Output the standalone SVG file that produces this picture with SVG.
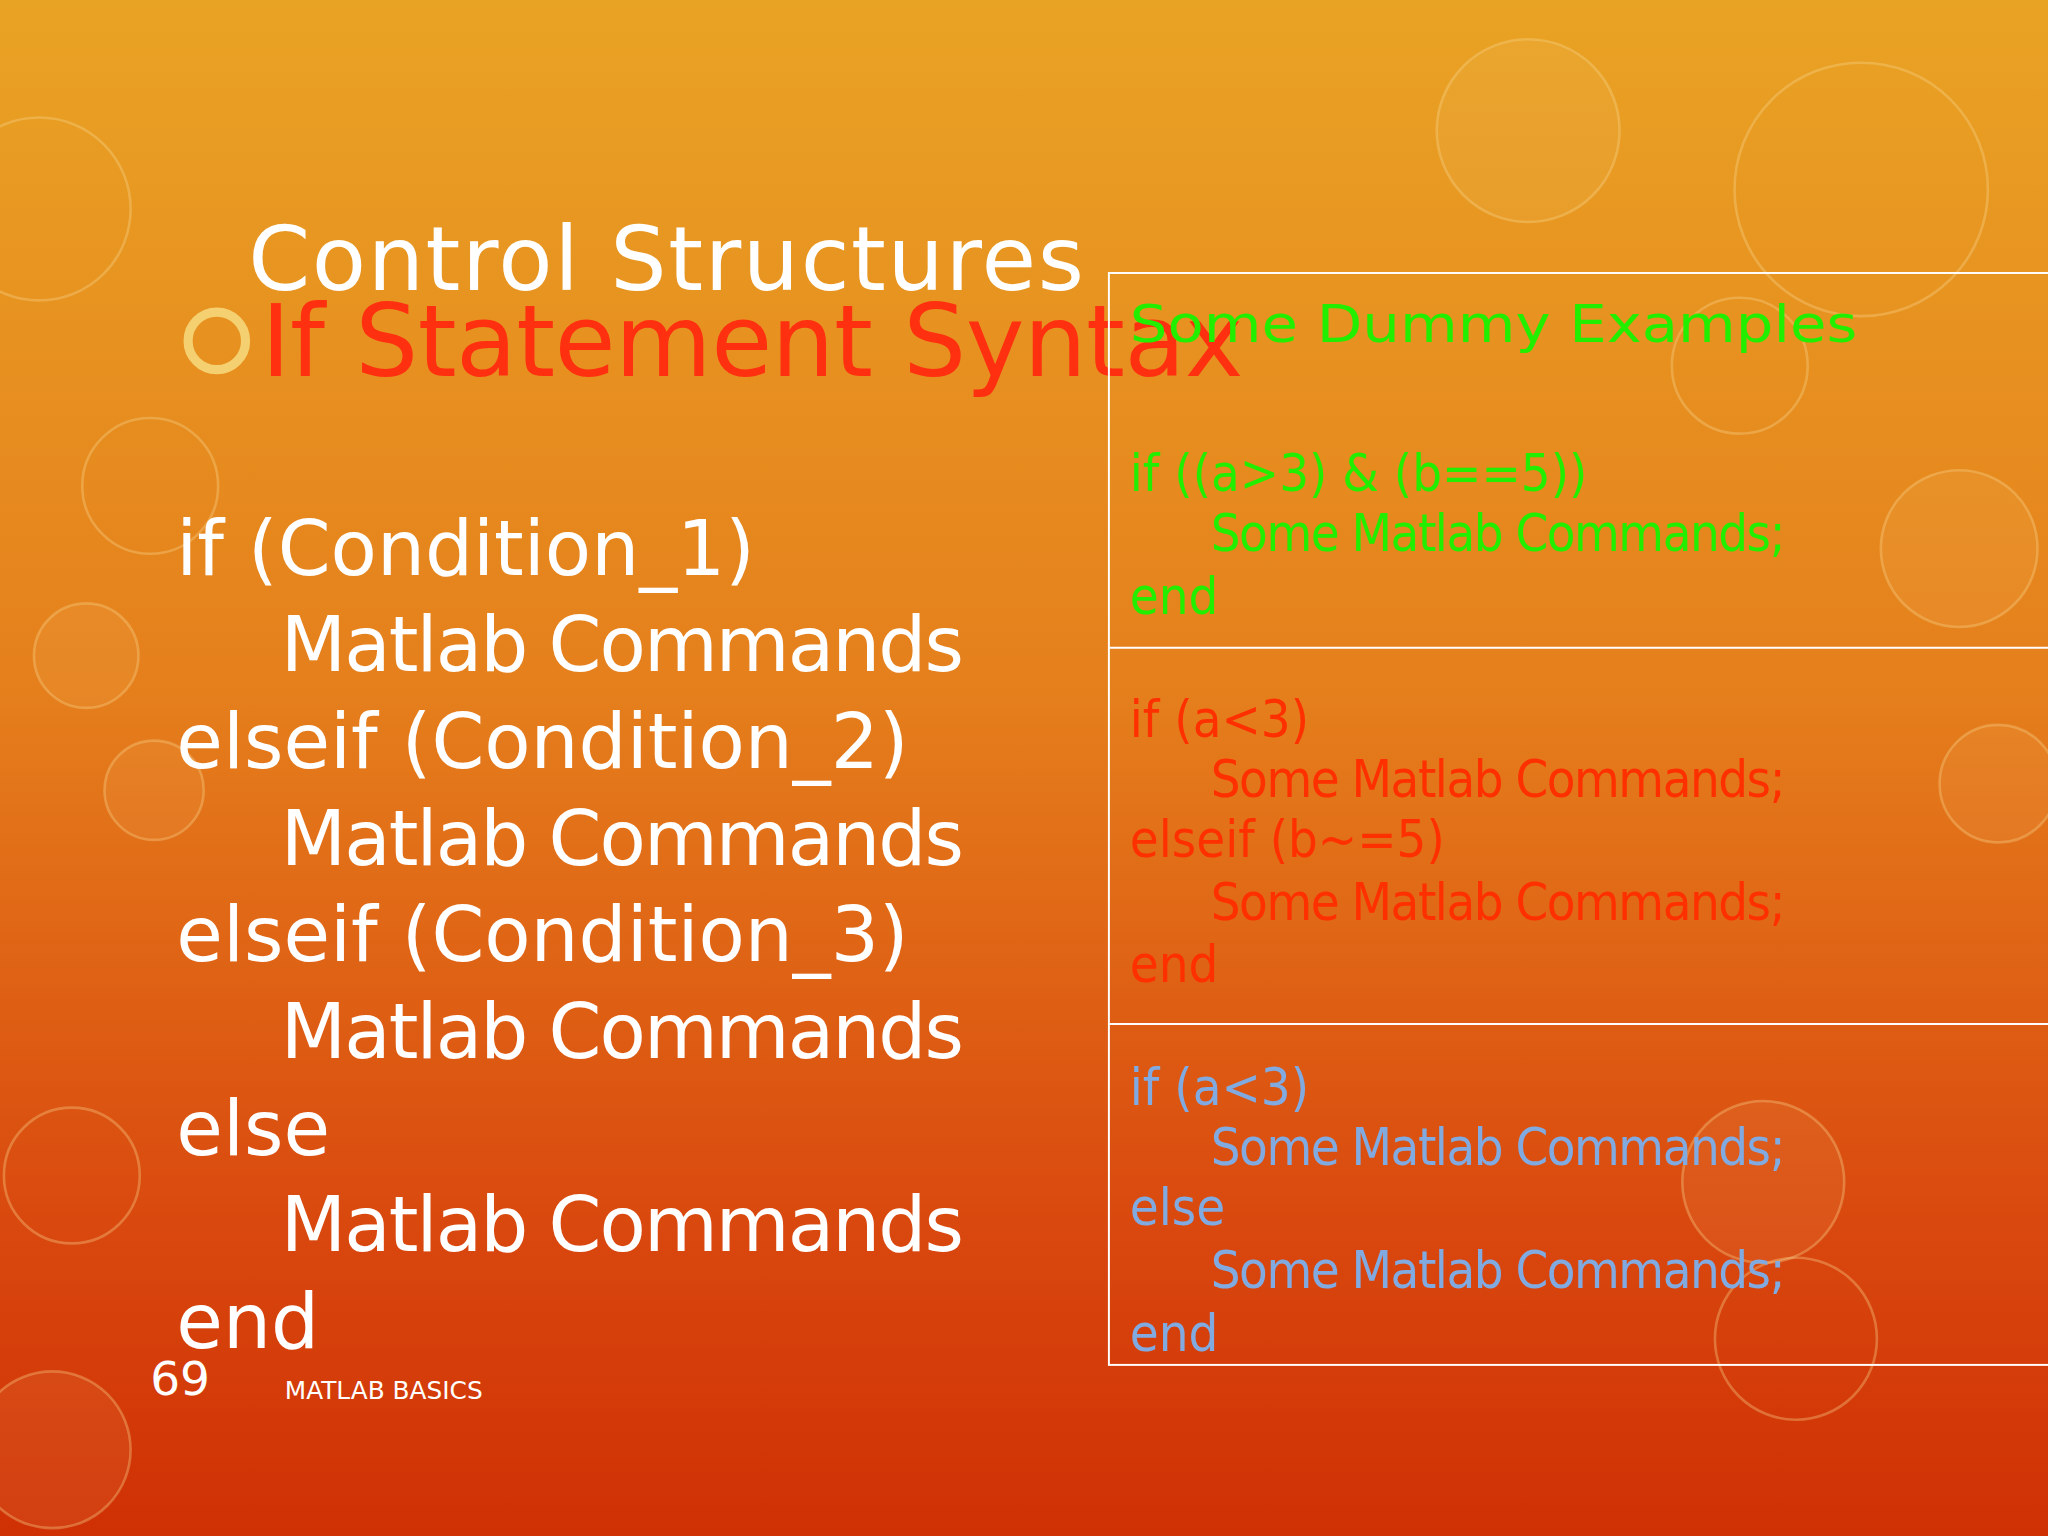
<svg xmlns="http://www.w3.org/2000/svg" width="2048" height="1536" viewBox="0 0 2048 1536">
<defs>
<linearGradient id="bg" x1="0" y1="0" x2="0" y2="1">
<stop offset="0" stop-color="#E9A324"/>
<stop offset="0.45" stop-color="#E57F1C"/>
<stop offset="0.8" stop-color="#D9480E"/>
<stop offset="1" stop-color="#CF3004"/>
</linearGradient>
<style>
.c{fill:none;stroke:#F8D890;stroke-opacity:0.35;stroke-width:2}
.f{fill:#FFE0A0;fill-opacity:0.08}
.w{font-family:"DejaVu Sans",Verdana,sans-serif;fill:#FFFFFF}
.r{font-family:"DejaVu Sans Condensed","DejaVu Sans",sans-serif;font-size:40px}
.g{fill:#22EE00}.rd{fill:#FF3000}.b{fill:#80AAE0}
</style>
</defs>
<g transform="scale(1.306122)">
<rect width="1568" height="1176" fill="url(#bg)"/>
<g id="bubbles">
<circle class="c" cx="30" cy="160" r="70"/>
<circle class="c" cx="115" cy="372" r="52"/>
<circle class="c f" cx="66" cy="502" r="40"/>
<circle class="c f" cx="118" cy="605" r="38"/>
<circle class="c" cx="55" cy="900" r="52"/>
<circle class="c f" cx="40" cy="1110" r="60"/>
<circle class="c" cx="1425" cy="145" r="97"/>
<circle class="c" cx="1332" cy="280" r="52"/>
<circle class="c f" cx="1500" cy="420" r="60"/>
<circle class="c f" cx="1350" cy="905" r="62"/>
<circle class="c" cx="1375" cy="1025" r="62"/>
<circle class="c f" cx="1530" cy="600" r="45"/>
<circle class="c f" cx="1170" cy="100" r="70"/>
</g>
<g id="title">
<text class="w" x="190" y="222" font-size="68" textLength="640">Control Structures</text>
<circle cx="166" cy="261" r="22" fill="none" stroke="#F5D070" stroke-width="7"/>
<text x="200" y="288" font-family="DejaVu Sans,Verdana,sans-serif" font-size="76" fill="#FF3010" textLength="752">If Statement Syntax</text>
</g>
<g id="syntax" class="w" font-size="58">
<text x="135" y="440">if (Condition_1)</text>
<text x="215" y="514" textLength="523">Matlab Commands</text>
<text x="135" y="588">elseif (Condition_2)</text>
<text x="215" y="662" textLength="523">Matlab Commands</text>
<text x="135" y="736">elseif (Condition_3)</text>
<text x="215" y="810" textLength="523">Matlab Commands</text>
<text x="135" y="884">else</text>
<text x="215" y="958" textLength="523">Matlab Commands</text>
<text x="135" y="1032">end</text>
</g>
<g id="examples">
<rect x="849" y="209" width="730" height="836" fill="none" stroke="#FFFFFF" stroke-width="1.5"/>
<line x1="849" y1="496" x2="1568" y2="496" stroke="#FFFFFF" stroke-width="1.5"/>
<line x1="849" y1="784" x2="1568" y2="784" stroke="#FFFFFF" stroke-width="1.5"/>
<text class="r g" x="865" y="262" font-size="50" textLength="557" lengthAdjust="spacingAndGlyphs">Some Dummy Examples</text>
<text class="r g" x="865" y="376">if ((a&gt;3) &amp; (b==5))</text>
<text class="r g" x="927" y="422" textLength="440">Some Matlab Commands;</text>
<text class="r g" x="865" y="470">end</text>
<text class="r rd" x="865" y="564">if (a&lt;3)</text>
<text class="r rd" x="927" y="610" textLength="440">Some Matlab Commands;</text>
<text class="r rd" x="865" y="656">elseif (b~=5)</text>
<text class="r rd" x="927" y="704" textLength="440">Some Matlab Commands;</text>
<text class="r rd" x="865" y="752">end</text>
<text class="r b" x="865" y="846">if (a&lt;3)</text>
<text class="r b" x="927" y="892" textLength="440">Some Matlab Commands;</text>
<text class="r b" x="865" y="938">else</text>
<text class="r b" x="927" y="986" textLength="440">Some Matlab Commands;</text>
<text class="r b" x="865" y="1034">end</text>
</g>
<g id="footer">
<text class="w" x="115" y="1068" font-size="36">69</text>
<text class="w" x="218" y="1071" font-size="19">MATLAB BASICS</text>
</g>
</g>
</svg>
